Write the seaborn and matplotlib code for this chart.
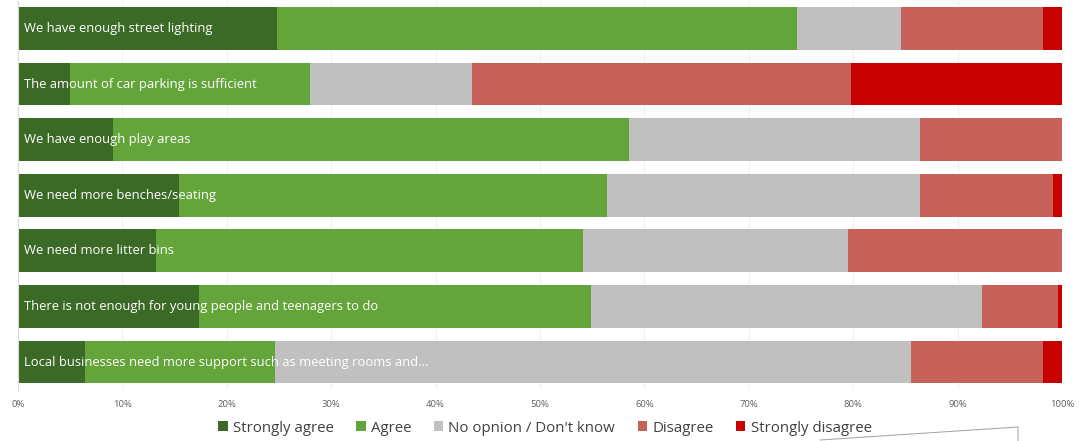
import numpy as np
import pandas as pd
import seaborn as sns
import matplotlib
matplotlib.use("Agg")
import matplotlib.pyplot as plt
from matplotlib.patches import Patch
from matplotlib.lines import Line2D
from matplotlib.ticker import FuncFormatter

statements = [
    "We have enough street lighting",
    "The amount of car parking is sufficient",
    "We have enough play areas",
    "We need more benches/seating",
    "We need more litter bins",
    "There is not enough for young people and teenagers to do",
    "Local businesses need more support such as meeting rooms and...",
]
responses = ["Strongly agree", "Agree", "No opnion / Don't know", "Disagree", "Strongly disagree"]

strongly_agree = [24.8, 5.0, 9.1, 15.4, 13.2, 17.3, 6.4]
agree = [49.8, 23.0, 49.4, 41.0, 40.9, 37.6, 18.2]
no_opinion = [10.0, 15.5, 27.9, 30.0, 25.4, 37.4, 60.9]
disagree = [13.6, 36.3, 13.6, 12.7, 20.5, 7.3, 12.7]
strongly_disagree = [1.8, 20.2, 0.0, 0.9, 0.0, 0.4, 1.8]

colors = ["#3A6A25", "#63A43B", "#C0C0C0", "#C7625A", "#C80000"]

sns.set_theme(style="white")
plt.rcParams["font.family"] = ["Open Sans", "DejaVu Sans"]

shares = np.array([strongly_agree, agree, no_opinion, disagree, strongly_disagree])
totals = shares.sum(axis=0)
shares = shares / totals * 100.0
cumulative = np.cumsum(shares, axis=0)

fig = plt.figure(figsize=(10.8, 4.41), dpi=100)
ax = fig.add_axes([18 / 1080, 1 - 389.8 / 441, 1044 / 1080, 389.1 / 441])

# faint vertical gridlines behind the bars
for x in range(10, 101, 10):
    ax.axvline(x, color="#F0F0F0", lw=0.8, zorder=0)

# stacked bars: draw running totals from the widest down so each segment shows
for i in range(len(responses) - 1, -1, -1):
    df = pd.DataFrame({"statement": statements, "value": cumulative[i]})
    sns.barplot(data=df, x="value", y="statement", orient="h", color=colors[i],
                order=statements, width=0.77, saturation=1, ax=ax, zorder=2,
                edgecolor="none", linewidth=0)

for k, s in enumerate(statements):
    ax.text(0.6, k, s, color="white", fontsize=9.4, va="center", ha="left", zorder=5)

ax.set_xlim(0, 100)
ax.set_ylim(6.5, -0.5)
ax.set_xticks(np.arange(0, 101, 10))
ax.xaxis.set_major_formatter(FuncFormatter(lambda v, p: f"{int(v)}%"))
ax.tick_params(axis="x", labelsize=6.8, colors="#606060", length=0, pad=7)
ax.set_yticks([])
ax.set_xlabel("")
ax.set_ylabel("")
for side in ["top", "right", "bottom"]:
    ax.spines[side].set_visible(False)
ax.spines["left"].set_color("#D9D9D9")
ax.spines["left"].set_linewidth(0.8)

handles = [Patch(facecolor=c, edgecolor="none", label=r) for c, r in zip(colors, responses)]
fig.legend(handles=handles, loc="center", bbox_to_anchor=(545 / 1080, 1 - 428 / 441),
           ncol=5, frameon=False, fontsize=10.8, handlelength=0.62, handleheight=0.62,
           handletextpad=0.35, columnspacing=1.5, labelcolor="#404040")

# thin stray outline at the lower right edge
fig.add_artist(Line2D([820 / 1080, 1018 / 1080, 1018 / 1080],
                      [1 - 440 / 441, 1 - 427 / 441, 1 - 441 / 441],
                      transform=fig.transFigure, color="#A0A0A0", lw=0.7))

fig.savefig("out.png", dpi=100, facecolor="white")
